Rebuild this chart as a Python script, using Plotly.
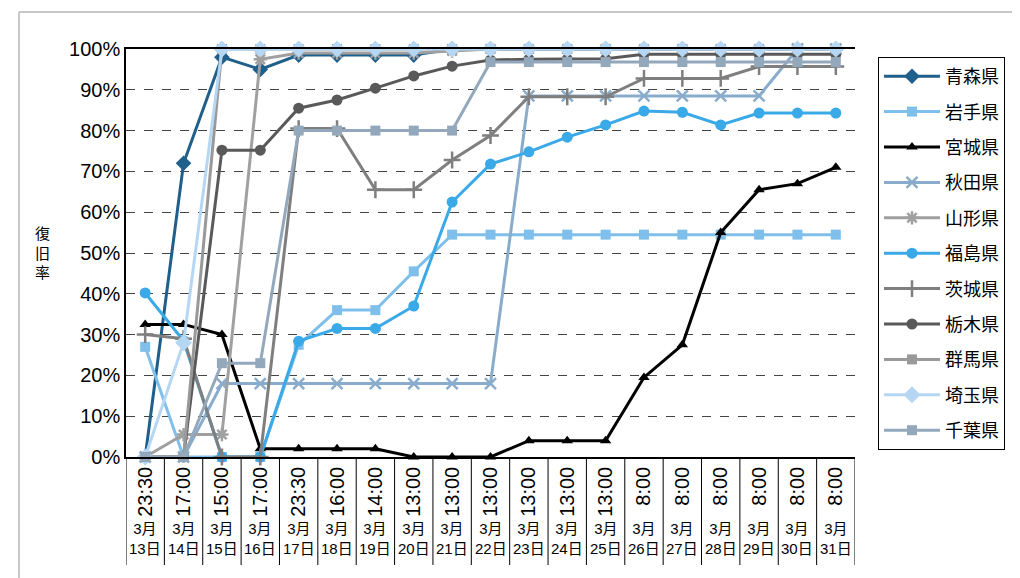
import plotly.graph_objects as go

times = ["23:30", "17:00", "15:00", "17:00", "23:30", "16:00", "14:00", "13:00", "13:00", "13:00",
         "13:00", "13:00", "13:00", "8:00", "8:00", "8:00", "8:00", "8:00", "8:00"]
days = ["13日", "14日", "15日", "16日", "17日", "18日", "19日", "20日", "21日", "22日",
        "23日", "24日", "25日", "26日", "27日", "28日", "29日", "30日", "31日"]
month = "3月"
yticks = [0, 10, 20, 30, 40, 50, 60, 70, 80, 90, 100]
ylabels = ["0%", "10%", "20%", "30%", "40%", "50%", "60%", "70%", "80%", "90%", "100%"]

aomori = [0, 72, 98, 95, 98.5, 98.5, 98.5, 98.5, 100, 100, 100, 100, 100, 100, 100, 100, 100, 100, 100]
iwate = [27, 0, 0, 0, 27.5, 36, 36, 45.5, 54.5, 54.5, 54.5, 54.5, 54.5, 54.5, 54.5, 54.5, 54.5, 54.5, 54.5]
miyagi = [32.5, 32.5, 30, 2, 2, 2, 2, 0, 0, 0, 4, 4, 4, 19.5, 27.5, 55, 65.5, 67, 71]
akita = [0, 0, 18, 18, 18, 18, 18, 18, 18, 18, 88.5, 88.5, 88.5, 88.5, 88.5, 88.5, 88.5, 100, 100]
yamagata = [0, 5.5, 5.5, 97.5, 99, 99, 99, 99, 99.5, 100, 100, 100, 100, 100, 100, 100, 100, 100, 100]
fukushima = [40.2, 28.5, 0, 0, 28.4, 31.5, 31.5, 37, 62.5, 71.8, 74.8, 78.4, 81.4, 84.8, 84.5, 81.4, 84.3, 84.3, 84.3]
ibaraki = [30, 29, 0, 0, 80.5, 80.5, 65.5, 65.5, 72.8, 78.8, 88.3, 88.3, 88.3, 92.8, 92.8, 92.8, 95.7, 95.7, 95.7]
tochigi = [0, 0, 75.2, 75.2, 85.5, 87.5, 90.4, 93.4, 95.8, 97.3, 97.5, 97.5, 97.6, 98.7, 98.7, 98.7, 98.7, 98.7, 98.7]
gunma = [0, 0, 100, 100, 100, 100, 100, 100, 100, 100, 100, 100, 100, 100, 100, 100, 100, 100, 100]
saitama = [0, 28, 100, 100, 100, 100, 100, 100, 100, 100, 100, 100, 100, 100, 100, 100, 100, 100, 100]
chiba = [0, 0, 23, 23, 80, 80, 80, 80, 80, 96.8, 96.8, 96.8, 96.8, 96.8, 96.8, 96.8, 96.8, 96.8, 96.8]

series = [
    ("青森県", aomori, "#1f5f8b", "diamond", 12),
    ("岩手県", iwate, "#7fbfec", "square", 10),
    ("宮城県", miyagi, "#000000", "triangle-up", 10),
    ("秋田県", akita, "#8aaccc", "x-thin-open", 11),
    ("山形県", yamagata, "#a0a0a0", "asterisk-open", 11),
    ("福島県", fukushima, "#39a9e8", "circle", 11),
    ("茨城県", ibaraki, "#7f7f7f", "cross-thin-open", 12),
    ("栃木県", tochigi, "#595959", "circle", 11),
    ("群馬県", gunma, "#999999", "square", 10),
    ("埼玉県", saitama, "#b5d7f3", "diamond", 13),
    ("千葉県", chiba, "#94a8bc", "square", 10),
]

# page body has an 8px margin; work in screen pixels and convert
OFF = 8
W, H = 1020 - OFF, 578 - OFF
L, R, T, B = 126, 855, 49, 457
PW, PH = R - L, B - T

def px(x):
    return (x - L) / PW

def py(y):
    return (B - y) / PH

FONT = "Liberation Sans, Arial, Noto Sans CJK JP"
cats = list(range(len(times)))

fig = go.Figure()
for i, (name, vals, color, sym, size) in enumerate(series):
    fig.add_trace(go.Scatter(
        x=cats, y=vals, name=name, mode="lines+markers",
        line=dict(color=color, width=3),
        marker=dict(symbol=sym, size=size, color=color,
                    line=dict(color=color, width=2.5 if "open" in sym else 0)),
        cliponaxis=False, legendgroup=str(i),
    ))

shapes = []
for i in range(len(times) + 1):
    shapes.append(dict(type="line", xref="x", yref="paper", x0=i - 0.5, x1=i - 0.5,
                       y0=py(565), y1=0, line=dict(color="#000000", width=1)))
shapes.append(dict(type="line", xref="paper", yref="paper", x0=px(19), x1=px(1020),
                   y0=py(12), y1=py(12), line=dict(color="#c8c8c8", width=2)))
shapes.append(dict(type="line", xref="paper", yref="paper", x0=px(19), x1=px(19),
                   y0=py(12), y1=py(578), line=dict(color="#c8c8c8", width=2)))

annotations = []
for i, d in enumerate(days):
    annotations.append(dict(x=i, y=py(538), xref="x", yref="paper", text=month + "<br>" + d,
                            showarrow=False, font=dict(size=15, color="#000000", family=FONT),
                            xanchor="center", yanchor="middle"))
annotations.append(dict(x=px(42), y=py(253), xref="paper", yref="paper", text="復<br>旧<br>率",
                        showarrow=False, font=dict(size=15, color="#000000", family=FONT),
                        xanchor="center", yanchor="middle"))

fig.update_layout(
    width=W, height=H,
    margin=dict(l=L - OFF, r=(1020 - R), t=T - OFF, b=(578 - B), pad=0, autoexpand=False),
    paper_bgcolor="white", plot_bgcolor="white",
    font=dict(family=FONT, color="#000000"),
    showlegend=True,
    legend=dict(x=px(878), y=py(57), xanchor="left", yanchor="top",
                bordercolor="#000000", borderwidth=1, bgcolor="white",
                font=dict(size=18, family=FONT), tracegroupgap=9,
                itemwidth=56, maxheight=700),
    xaxis=dict(range=[-0.5, len(times) - 0.5], tickmode="array", tickvals=cats, ticktext=times,
               tickangle=-90, tickfont=dict(size=20, family=FONT), showgrid=False,
               showline=True, linecolor="#000000", linewidth=1.5, mirror=True, ticks="",
               zeroline=False, automargin=False),
    yaxis=dict(range=[0, 100], tickmode="array", tickvals=yticks, ticktext=ylabels,
               tickfont=dict(size=20, family=FONT), showgrid=True,
               gridcolor="#444444", griddash="dash", gridwidth=1,
               showline=True, linecolor="#000000", linewidth=1.5, ticks="", zeroline=False,
               automargin=False),
    shapes=shapes, annotations=annotations,
)

fig.write_html("out.html")
